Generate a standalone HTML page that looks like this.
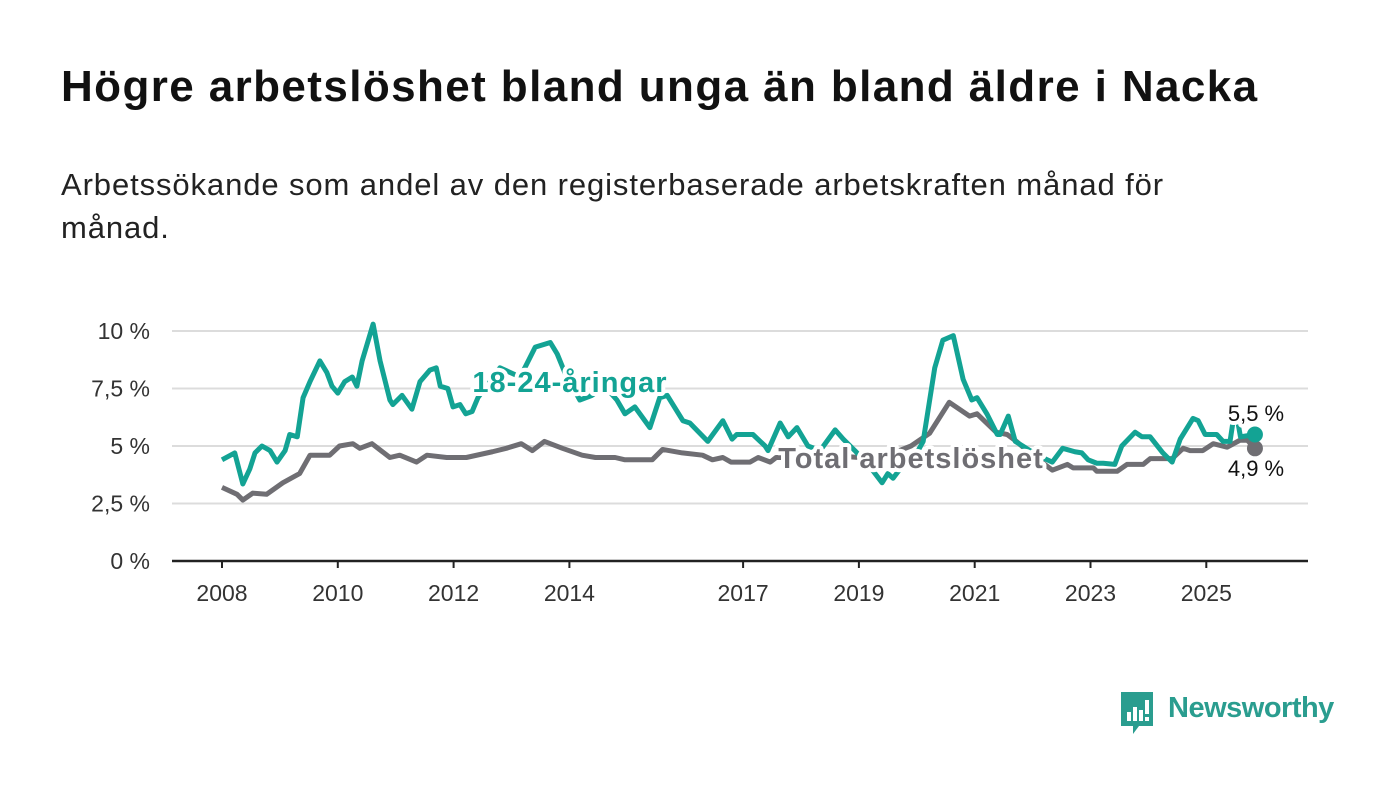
<!DOCTYPE html>
<html><head><meta charset="utf-8"><style>
body{margin:0;background:#fff;width:1400px;height:794px;overflow:hidden;font-family:"Liberation Sans",sans-serif}
h1{position:absolute;left:61px;top:62px;margin:0;font-size:44px;letter-spacing:1.4px;font-weight:bold;color:#111;white-space:nowrap}
.sub{position:absolute;left:61px;top:163px;width:1175px;font-size:31px;letter-spacing:0.9px;line-height:43px;color:#222}
</style></head><body>
<h1>Högre arbetslöshet bland unga än bland äldre i Nacka</h1>
<div class="sub">Arbetssökande som andel av den registerbaserade arbetskraften månad för månad.</div>
<svg id="chart" width="1400" height="794" style="position:absolute;left:0;top:0"></svg>
<div style="position:absolute;left:1119px;top:692px;">
<svg width="36" height="44"><path d="M2 0H34V34H20L14 42V34H2Z" fill="#2a9d8f"/><rect x="8" y="20" width="4" height="9" fill="#fff"/><rect x="14" y="15" width="4" height="14" fill="#fff"/><rect x="20" y="18" width="4" height="11" fill="#fff"/><rect x="26" y="8" width="4" height="14" fill="#fff"/><rect x="26" y="25" width="4" height="4" fill="#fff"/></svg>
<span style="position:absolute;left:49px;top:0px;font-size:29px;color:#2a9d8f;font-weight:bold;letter-spacing:-0.5px">Newsworthy</span>
</div>
<script>
const xTicks=[2008,2010,2012,2014,2017,2019,2021,2023,2025];
const yTicks=[0,2.5,5,7.5,10];
const yTickLabels=["0 %","2,5 %","5 %","7,5 %","10 %"];
const youthYears=[2008.00,2008.22,2008.36,2008.48,2008.57,2008.69,2008.83,2008.95,2009.09,2009.17,2009.30,2009.40,2009.52,2009.69,2009.81,2009.90,2010.00,2010.12,2010.25,2010.33,2010.42,2010.61,2010.73,2010.90,2010.95,2011.11,2011.28,2011.42,2011.59,2011.70,2011.77,2011.90,2011.99,2012.11,2012.21,2012.32,2012.42,2012.80,2013.15,2013.41,2013.67,2013.79,2013.92,2014.18,2014.39,2014.61,2014.82,2014.96,2015.13,2015.39,2015.56,2015.69,2015.96,2016.08,2016.39,2016.65,2016.81,2016.89,2017.17,2017.38,2017.43,2017.64,2017.78,2017.93,2018.12,2018.33,2018.59,2018.73,2018.93,2019.19,2019.40,2019.50,2019.59,2019.80,2020.00,2020.11,2020.31,2020.45,2020.63,2020.80,2020.95,2021.04,2021.21,2021.39,2021.44,2021.58,2021.70,2021.83,2022.08,2022.34,2022.52,2022.73,2022.85,2022.96,2023.11,2023.22,2023.42,2023.54,2023.77,2023.89,2024.03,2024.25,2024.41,2024.55,2024.77,2024.86,2024.98,2025.18,2025.29,2025.41,2025.50,2025.59,2025.84];
const youthVals=[4.4,4.7,3.35,4.0,4.7,5.0,4.8,4.3,4.8,5.5,5.4,7.1,7.8,8.7,8.2,7.6,7.3,7.8,8.0,7.6,8.7,10.3,8.7,7.0,6.8,7.2,6.6,7.8,8.3,8.4,7.6,7.5,6.7,6.8,6.4,6.5,7.1,8.4,8.0,9.3,9.5,9.0,8.2,7.0,7.2,7.6,7.0,6.4,6.7,5.8,7.1,7.2,6.1,6.0,5.2,6.1,5.3,5.5,5.5,5.0,4.8,6.0,5.4,5.8,5.0,4.8,5.7,5.3,4.8,4.1,3.4,3.8,3.6,4.3,4.7,5.2,8.4,9.6,9.8,7.9,7.0,7.1,6.4,5.5,5.5,6.3,5.2,5.0,4.6,4.3,4.9,4.75,4.7,4.4,4.25,4.25,4.2,5.0,5.6,5.4,5.4,4.7,4.3,5.3,6.2,6.1,5.5,5.5,5.2,5.2,6.7,5.4,5.5];
const totalYears=[2008.00,2008.26,2008.36,2008.53,2008.77,2009.05,2009.34,2009.52,2009.86,2010.03,2010.26,2010.38,2010.59,2010.90,2011.07,2011.36,2011.54,2011.88,2012.05,2012.22,2012.67,2012.91,2013.17,2013.36,2013.57,2013.88,2014.22,2014.45,2014.79,2014.96,2015.43,2015.61,2015.95,2016.30,2016.47,2016.65,2016.79,2017.12,2017.26,2017.47,2017.57,2018.0,2018.5,2019.0,2019.5,2019.9,2020.22,2020.56,2020.91,2021.04,2021.37,2021.56,2021.72,2022.0,2022.34,2022.60,2022.70,2023.05,2023.11,2023.46,2023.63,2023.91,2024.03,2024.41,2024.60,2024.72,2024.94,2025.12,2025.36,2025.58,2025.71,2025.84];
const totalVals=[3.2,2.9,2.65,2.95,2.9,3.4,3.8,4.6,4.6,5.0,5.1,4.9,5.1,4.5,4.6,4.3,4.6,4.5,4.5,4.5,4.75,4.9,5.1,4.8,5.2,4.9,4.6,4.5,4.5,4.4,4.4,4.85,4.7,4.6,4.4,4.5,4.3,4.3,4.5,4.3,4.5,4.5,4.6,4.5,4.6,5.0,5.55,6.9,6.3,6.4,5.6,5.5,5.2,4.6,3.95,4.2,4.05,4.05,3.9,3.9,4.2,4.2,4.45,4.45,4.9,4.8,4.8,5.1,4.95,5.25,5.25,4.9];
const NS="http://www.w3.org/2000/svg", svg=document.getElementById('chart');
const X=y=>222+(y-2008)*57.9, Y=v=>561-v*23;
function mk(t,a){const e=document.createElementNS(NS,t);for(const k in a)e.setAttribute(k,a[k]);svg.appendChild(e);return e;}
yTicks.forEach((v,i)=>{
 if(v>0){const g=mk('line',{x1:172,x2:1308,y1:Y(v),y2:Y(v),stroke:'#dcdcdc','stroke-width':2});
 
 }
 const t=mk('text',{x:150,y:Y(v)+8,'text-anchor':'end','font-size':23,fill:'#333'});t.textContent=yTickLabels[i];
 
 
});
const ax=mk('line',{x1:172,x2:1308,y1:561,y2:561,stroke:'#222','stroke-width':2.5});


xTicks.forEach(y=>{
 const l=mk('line',{x1:X(y),x2:X(y),y1:561,y2:568,stroke:'#222','stroke-width':2});
 
 
 const t=mk('text',{x:X(y),y:601,'text-anchor':'middle','font-size':23,fill:'#333'});t.textContent=y;
 
 
});
function line(ys,vs,c,name){
 const p=mk('polyline',{points:ys.map((y,i)=>X(y)+','+Y(vs[i])).join(' '),fill:'none',stroke:c,'stroke-width':5,'stroke-linejoin':'round'});
 
 
 const d=mk('circle',{cx:X(ys[ys.length-1]),cy:Y(vs[vs.length-1]),r:8,fill:c});
 
 
}
line(totalYears,totalVals,'#6f6e73','total-line');
line(youthYears,youthVals,'#13a394','youth-line');
function lab(x,y,txt,c,size,bold,name,ls){
 const t=mk('text',{x:x,y:y,'text-anchor':'middle','font-size':size,fill:c,'font-weight':bold?'bold':'normal','letter-spacing':ls||0,stroke:'#fff','stroke-width':8,'paint-order':'stroke','stroke-linejoin':'round'});t.textContent=txt;
 
 
}
lab(570,392,'18-24-åringar','#13a394',29,true,'youth-series-label',1);
lab(911,468,'Total arbetslöshet','#6f6e73',29,true,'total-series-label',1);
lab(1256,421,'5,5 %','#111',22,false,'youth-end-value');
lab(1256,476,'4,9 %','#111',22,false,'total-end-value');
</script>
</body></html>
